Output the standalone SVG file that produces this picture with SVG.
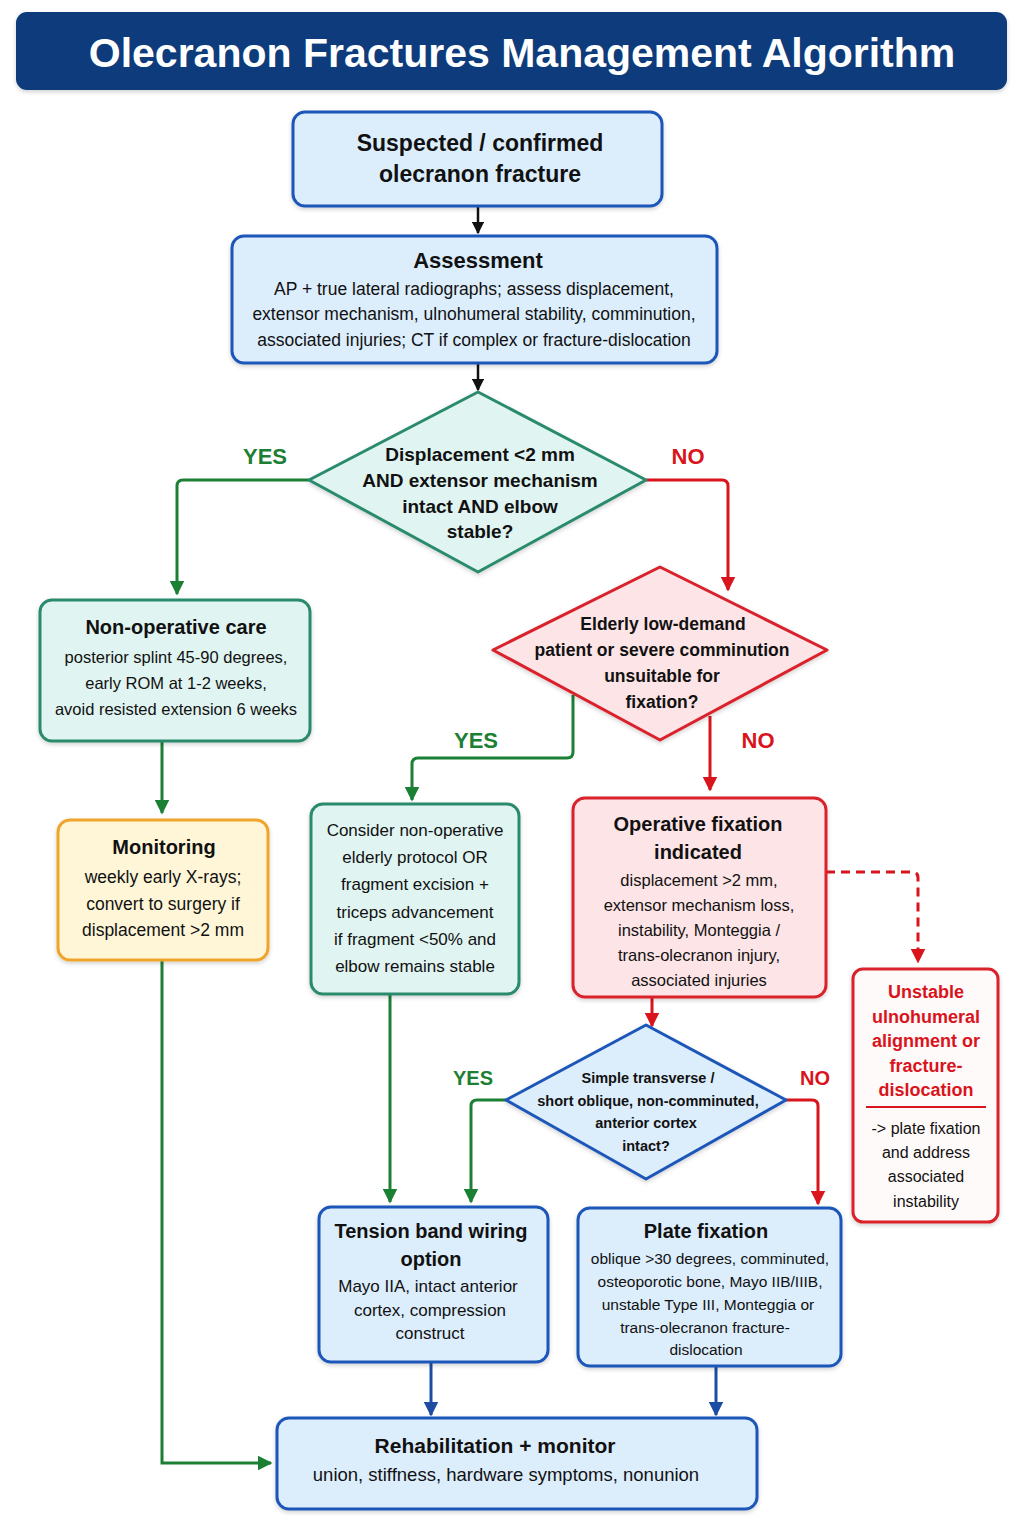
<svg xmlns="http://www.w3.org/2000/svg" width="1024" height="1536" viewBox="0 0 1024 1536">
<defs>
<style>
text{font-family:"Liberation Sans","Noto Sans",Arial,sans-serif;text-anchor:middle;fill:#111}
.t{font-weight:bold}
.blue{fill:#dcedfc;stroke:#1d56b8;stroke-width:3}
.teal{fill:#e0f4f1;stroke:#2b8a6c;stroke-width:3}
.red{fill:#fde4e6;stroke:#d9202c;stroke-width:3}
.yel{fill:#fff6d8;stroke:#eea52c;stroke-width:3}
.wred{fill:#fffafa;stroke:#d9202c;stroke-width:3}
.cb{fill:none;stroke:#111;stroke-width:2.5}
.cg{fill:none;stroke:#1b7f34;stroke-width:3}
.cr{fill:none;stroke:#d9141c;stroke-width:3}
.cu{fill:none;stroke:#1c4da3;stroke-width:3}
.lg{fill:#1b7f34;font-weight:bold;font-size:22px}
.lr{fill:#d9141c;font-weight:bold;font-size:22px}
</style>
<filter id="sh" x="-10%" y="-10%" width="120%" height="130%"><feDropShadow dx="0" dy="2" stdDeviation="2" flood-color="#000" flood-opacity="0.18"/></filter>
<marker id="ab" viewBox="0 0 10 10" refX="9" refY="5" markerWidth="5" markerHeight="5" orient="auto"><path d="M0,0L10,5L0,10z" fill="#111"/></marker>
<marker id="ag" viewBox="0 0 10 10" refX="9" refY="5" markerWidth="5" markerHeight="5" orient="auto"><path d="M0,0L10,5L0,10z" fill="#1b7f34"/></marker>
<marker id="ar" viewBox="0 0 10 10" refX="9" refY="5" markerWidth="5" markerHeight="5" orient="auto"><path d="M0,0L10,5L0,10z" fill="#d9141c"/></marker>
<marker id="au" viewBox="0 0 10 10" refX="9" refY="5" markerWidth="5" markerHeight="5" orient="auto"><path d="M0,0L10,5L0,10z" fill="#1c4da3"/></marker>
</defs>
<rect width="1024" height="1536" fill="#ffffff"/>

<g id="title">
<rect x="16" y="12" width="991" height="78" rx="11" fill="#083a7c" filter="url(#sh)"/>
<text x="522" y="67" class="t" style="fill:#fff;font-size:41px">Olecranon Fractures Management Algorithm</text>
</g>

<g id="connectors">
<path class="cb" d="M478,206V233" marker-end="url(#ab)"/>
<path class="cb" d="M478,363V390" marker-end="url(#ab)"/>
<path class="cg" d="M309,480H183Q177,480 177,486V594" marker-end="url(#ag)"/>
<path class="cr" d="M646,480H722Q728,480 728,486V590" marker-end="url(#ar)"/>
<path class="cg" d="M162,741V813" marker-end="url(#ag)"/>
<path class="cg" d="M162,960V1463H271" marker-end="url(#ag)"/>
<path class="cg" d="M573,695V752Q573,758 567,758H418Q412,758 412,764V800" marker-end="url(#ag)"/>
<path class="cr" d="M710,716V790" marker-end="url(#ar)"/>
<path class="cr" d="M826,872H912Q918,872 918,878V962" stroke-dasharray="9,6" marker-end="url(#ar)"/>
<path class="cr" d="M652,997V1026" marker-end="url(#ar)"/>
<path class="cg" d="M390,994V1202" marker-end="url(#ag)"/>
<path class="cg" d="M506,1100H477Q471,1100 471,1106V1202" marker-end="url(#ag)"/>
<path class="cr" d="M786,1100H812Q818,1100 818,1106V1204" marker-end="url(#ar)"/>
<path class="cu" d="M431,1362V1415" marker-end="url(#au)"/>
<path class="cu" d="M716,1366V1415" marker-end="url(#au)"/>
<text x="265" y="464" class="lg">YES</text>
<text x="688" y="464" class="lr">NO</text>
<text x="476" y="748" class="lg">YES</text>
<text x="758" y="748" class="lr">NO</text>
<text x="473" y="1085" class="lg" style="font-size:20px">YES</text>
<text x="815" y="1085" class="lr" style="font-size:20px">NO</text>
</g>

<g id="start">
<rect x="293" y="112" width="369" height="94" rx="12" class="blue" filter="url(#sh)"/>
<text x="480" y="151" class="t" style="font-size:23px">Suspected / confirmed</text>
<text x="480" y="182" class="t" style="font-size:23px">olecranon fracture</text>
</g>

<g id="assessment">
<rect x="232" y="236" width="485" height="127" rx="12" class="blue" filter="url(#sh)"/>
<text x="478" y="268" class="t" style="font-size:22px">Assessment</text>
<text x="474" y="295" style="font-size:17.5px">AP + true lateral radiographs; assess displacement,</text>
<text x="474" y="320" style="font-size:17.5px">extensor mechanism, ulnohumeral stability, comminution,</text>
<text x="474" y="346" style="font-size:17.5px">associated injuries; CT if complex or fracture-dislocation</text>
</g>

<g id="decision1">
<polygon points="478,392 646,480 478,572 309,480" class="teal" stroke-linejoin="round" filter="url(#sh)"/>
<text x="480" y="461" class="t" style="font-size:19px">Displacement &lt;2 mm</text>
<text x="480" y="487" class="t" style="font-size:19px">AND extensor mechanism</text>
<text x="480" y="513" class="t" style="font-size:19px">intact AND elbow</text>
<text x="480" y="538" class="t" style="font-size:19px">stable?</text>
</g>

<g id="nonop">
<rect x="40" y="600" width="270" height="141" rx="12" class="teal" filter="url(#sh)"/>
<text x="176" y="634" class="t" style="font-size:20px">Non-operative care</text>
<text x="176" y="663" style="font-size:16.5px">posterior splint 45-90 degrees,</text>
<text x="176" y="689" style="font-size:16.5px">early ROM at 1-2 weeks,</text>
<text x="176" y="715" style="font-size:16.5px">avoid resisted extension 6 weeks</text>
</g>

<g id="monitoring">
<rect x="58" y="820" width="210" height="140" rx="12" class="yel" filter="url(#sh)"/>
<text x="164" y="854" class="t" style="font-size:20px">Monitoring</text>
<text x="163" y="883" style="font-size:17.5px">weekly early X-rays;</text>
<text x="163" y="910" style="font-size:17.5px">convert to surgery if</text>
<text x="163" y="936" style="font-size:17.5px">displacement &gt;2 mm</text>
</g>

<g id="decision2">
<polygon points="660,567 827,650 660,740 493,650" class="red" stroke-linejoin="round" filter="url(#sh)"/>
<text x="663" y="630" class="t" style="font-size:17.5px">Elderly low-demand</text>
<text x="662" y="656" class="t" style="font-size:17.5px">patient or severe comminution</text>
<text x="662" y="682" class="t" style="font-size:17.5px">unsuitable for</text>
<text x="662" y="708" class="t" style="font-size:17.5px">fixation?</text>
</g>

<g id="consider">
<rect x="311" y="804" width="208" height="190" rx="12" class="teal" filter="url(#sh)"/>
<text x="415" y="836" style="font-size:17px">Consider non-operative</text>
<text x="415" y="863" style="font-size:17px">elderly protocol OR</text>
<text x="415" y="890" style="font-size:17px">fragment excision +</text>
<text x="415" y="918" style="font-size:17px">triceps advancement</text>
<text x="415" y="945" style="font-size:17px">if fragment &lt;50% and</text>
<text x="415" y="972" style="font-size:17px">elbow remains stable</text>
</g>

<g id="operative">
<rect x="573" y="798" width="253" height="199" rx="12" class="red" filter="url(#sh)"/>
<text x="698" y="831" class="t" style="font-size:20px">Operative fixation</text>
<text x="698" y="859" class="t" style="font-size:20px">indicated</text>
<text x="699" y="886" style="font-size:16.5px">displacement &gt;2 mm,</text>
<text x="699" y="911" style="font-size:16.5px">extensor mechanism loss,</text>
<text x="699" y="936" style="font-size:16.5px">instability, Monteggia /</text>
<text x="699" y="961" style="font-size:16.5px">trans-olecranon injury,</text>
<text x="699" y="986" style="font-size:16.5px">associated injuries</text>
</g>

<g id="unstable">
<rect x="853" y="969" width="145" height="253" rx="10" class="wred" filter="url(#sh)"/>
<text x="926" y="998" class="t" style="font-size:18px;fill:#d9141c">Unstable</text>
<text x="926" y="1023" class="t" style="font-size:18px;fill:#d9141c">ulnohumeral</text>
<text x="926" y="1047" class="t" style="font-size:18px;fill:#d9141c">alignment or</text>
<text x="926" y="1072" class="t" style="font-size:18px;fill:#d9141c">fracture-</text>
<text x="926" y="1096" class="t" style="font-size:18px;fill:#d9141c">dislocation</text>
<line x1="866" y1="1107" x2="986" y2="1107" stroke="#d9141c" stroke-width="2"/>
<text x="926" y="1134" style="font-size:16px">-&gt; plate fixation</text>
<text x="926" y="1158" style="font-size:16px">and address</text>
<text x="926" y="1182" style="font-size:16px">associated</text>
<text x="926" y="1207" style="font-size:16px">instability</text>
</g>

<g id="decision3">
<polygon points="646,1025 786,1100 646,1179 506,1100" class="blue" stroke-linejoin="round" filter="url(#sh)"/>
<text x="648" y="1083" class="t" style="font-size:14.5px">Simple transverse /</text>
<text x="648" y="1106" class="t" style="font-size:14.5px">short oblique, non-comminuted,</text>
<text x="646" y="1128" class="t" style="font-size:14.5px">anterior cortex</text>
<text x="646" y="1151" class="t" style="font-size:14.5px">intact?</text>
</g>

<g id="tension">
<rect x="319" y="1207" width="229" height="155" rx="12" class="blue" filter="url(#sh)"/>
<text x="431" y="1238" class="t" style="font-size:20px">Tension band wiring</text>
<text x="431" y="1266" class="t" style="font-size:20px">option</text>
<text x="428" y="1292" style="font-size:17px">Mayo IIA, intact anterior</text>
<text x="430" y="1316" style="font-size:17px">cortex, compression</text>
<text x="430" y="1339" style="font-size:17px">construct</text>
</g>

<g id="plate">
<rect x="578" y="1208" width="263" height="158" rx="12" class="blue" filter="url(#sh)"/>
<text x="706" y="1238" class="t" style="font-size:20px">Plate fixation</text>
<text x="710" y="1264" style="font-size:15.5px">oblique &gt;30 degrees, comminuted,</text>
<text x="710" y="1287" style="font-size:15.5px">osteoporotic bone, Mayo IIB/IIIB,</text>
<text x="708" y="1310" style="font-size:15.5px">unstable Type III, Monteggia or</text>
<text x="705" y="1333" style="font-size:15.5px">trans-olecranon fracture-</text>
<text x="706" y="1355" style="font-size:15.5px">dislocation</text>
</g>

<g id="rehab">
<rect x="277" y="1418" width="480" height="91" rx="12" class="blue" filter="url(#sh)"/>
<text x="495" y="1453" class="t" style="font-size:21px">Rehabilitation + monitor</text>
<text x="506" y="1481" style="font-size:18.5px">union, stiffness, hardware symptoms, nonunion</text>
</g>
</svg>
